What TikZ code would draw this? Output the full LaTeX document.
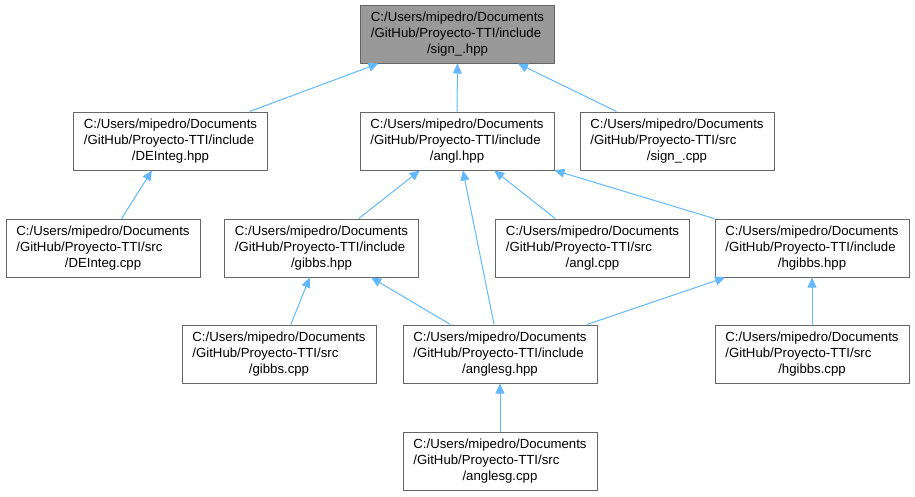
\documentclass[tikz,border=0pt]{standalone}
\usepackage{fontspec}
\setmainfont{Liberation Sans}
\usetikzlibrary{arrows.meta}
\definecolor{edgeblue}{HTML}{63B8FF}
\definecolor{boxgray}{HTML}{666666}
\definecolor{rootgray}{HTML}{999999}
\newcommand{\filelabel}[2]{\begin{tabular}{@{}l@{}}C:/Users/mipedro/Documents\\/GitHub/Proyecto-TTI/#1\\\multicolumn{1}{@{}c@{}}{/#2}\end{tabular}}
\begin{document}
\begin{tikzpicture}[x=1pt, y=-1pt,
    filebox/.style={draw=boxgray, fill=white, line width=1pt, minimum width=194pt, minimum height=58pt, inner sep=0pt, font=\fontsize{13.2pt}{16pt}\selectfont},
    rootbox/.style={filebox, fill=rootgray},
    dep/.style={draw=edgeblue, line width=1pt, -{Triangle[length=10pt,width=9pt,fill=edgeblue]}}]
    \useasboundingbox (0,0) rectangle (915,496);

    % Archivos
    \node[rootbox] (signhpp) at (457.5,34) {\filelabel{include}{sign\_.hpp}};
    \node[filebox] (DEhpp) at (170.5,141) {\filelabel{include}{DEInteg.hpp}};
    \node[filebox] (anglhpp) at (457,141) {\filelabel{include}{angl.hpp}};
    \node[filebox] (signcpp) at (677,141) {\filelabel{src}{sign\_.cpp}};
    \node[filebox] (DEcpp) at (103,248) {\filelabel{src}{DEInteg.cpp}};
    \node[filebox] (gibbshpp) at (321.5,248) {\filelabel{include}{gibbs.hpp}};
    \node[filebox] (anglcpp) at (592.5,248) {\filelabel{src}{angl.cpp}};
    \node[filebox] (hgibbshpp) at (812,248) {\filelabel{include}{hgibbs.hpp}};
    \node[filebox] (gibbscpp) at (279,354) {\filelabel{src}{gibbs.cpp}};
    \node[filebox] (anglesghpp) at (500,354) {\filelabel{include}{anglesg.hpp}};
    \node[filebox] (hgibbscpp) at (812,354) {\filelabel{src}{hgibbs.cpp}};
    \node[filebox] (anglesgcpp) at (500,461) {\filelabel{src}{anglesg.cpp}};

    % Dependencias
    \draw[dep] (DEhpp) -- (signhpp);
    \draw[dep] (anglhpp) -- (signhpp);
    \draw[dep] (signcpp) -- (signhpp);
    \draw[dep] (DEcpp) -- (DEhpp);
    \draw[dep] (gibbshpp) -- (anglhpp);
    \draw[dep] (anglesghpp) -- (anglhpp);
    \draw[dep] (anglcpp) -- (anglhpp);
    \draw[dep] (hgibbshpp) -- (anglhpp);
    \draw[dep] (gibbscpp) -- (gibbshpp);
    \draw[dep] (anglesghpp) -- (gibbshpp);
    \draw[dep] (anglesghpp) -- (hgibbshpp);
    \draw[dep] (hgibbscpp) -- (hgibbshpp);
    \draw[dep] (anglesgcpp) -- (anglesghpp);
\end{tikzpicture}
\end{document}
